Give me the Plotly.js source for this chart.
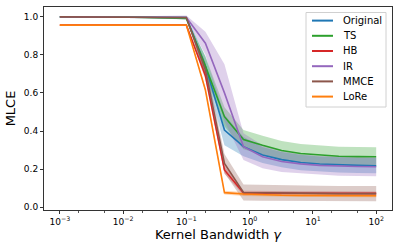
<!DOCTYPE html>
<html><head><meta charset="utf-8">
<script src="https://cdn.plot.ly/plotly-3.0.1.min.js"></script>
<style>body{margin:0;background:#fff}#c{width:399px;height:249px}</style>
</head><body><div id="c"></div>
<script>
const gamma = [0.001, 0.01, 0.1, 0.2, 0.4, 0.8, 1.6, 3.2, 6.4, 12.8, 25.6, 51.2, 100];
const names = ["Original", "TS", "HB", "IR", "MMCE", "LoRe"];
const colors = ["#1f77b4", "#2ca02c", "#d62728", "#9467bd", "#8c564b", "#ff7f0e"];
const fills = ["rgba(31,119,180,0.3)", "rgba(44,160,44,0.3)", "rgba(214,39,40,0.3)", "rgba(148,103,189,0.3)", "rgba(140,86,75,0.3)", "rgba(255,127,14,0.3)"];
const mOriginal = [0.998, 0.998, 0.995, 0.74, 0.405, 0.318, 0.274, 0.25, 0.235, 0.227, 0.222, 0.22, 0.218];
const sOriginal = [0.002, 0.002, 0.004, 0.05, 0.08, 0.05, 0.042, 0.04, 0.04, 0.04, 0.04, 0.04, 0.04];
const mTS = [0.998, 0.998, 0.99, 0.74, 0.475, 0.355, 0.325, 0.298, 0.282, 0.273, 0.268, 0.266, 0.265];
const sTS = [0.002, 0.002, 0.004, 0.05, 0.05, 0.05, 0.05, 0.05, 0.05, 0.05, 0.05, 0.05, 0.05];
const mHB = [0.955, 0.955, 0.955, 0.69, 0.196, 0.075, 0.075, 0.074, 0.074, 0.074, 0.073, 0.073, 0.073];
const sHB = [0.002, 0.002, 0.003, 0.02, 0.02, 0.012, 0.01, 0.01, 0.01, 0.01, 0.01, 0.01, 0.01];
const mIR = [0.998, 0.998, 0.995, 0.86, 0.60, 0.318, 0.265, 0.24, 0.228, 0.22, 0.216, 0.214, 0.213];
const sIR = [0.002, 0.002, 0.01, 0.06, 0.15, 0.07, 0.06, 0.055, 0.05, 0.05, 0.05, 0.05, 0.05];
const mMMCE = [0.998, 0.998, 0.995, 0.72, 0.23, 0.078, 0.076, 0.074, 0.073, 0.073, 0.072, 0.072, 0.072];
const sMMCE = [0.002, 0.002, 0.004, 0.04, 0.05, 0.042, 0.042, 0.04, 0.04, 0.04, 0.04, 0.04, 0.04];
const mLoRe = [0.955, 0.955, 0.955, 0.615, 0.077, 0.07, 0.065, 0.063, 0.062, 0.062, 0.061, 0.061, 0.061];
const sLoRe = [0.003, 0.003, 0.004, 0.01, 0.01, 0.01, 0.008, 0.008, 0.008, 0.008, 0.008, 0.008, 0.008];
const xTickVals = [0.001, 0.01, 0.1, 1, 10, 100];
const xTickText = ["10<sup>−3</sup>", "10<sup>−2</sup>", "10<sup>−1</sup>", "10<sup>0</sup>", "10<sup>1</sup>", "10<sup>2</sup>"];
const yTickVals = [0, 0.2, 0.4, 0.6, 0.8, 1.0];

const W = 399, H = 249, M = {l: 44, r: 7, t: 7, b: 39};
const PW = W - M.l - M.r, PH = H - M.t - M.b;
const px = x => (x - M.l) / PW;
const py = y => 1 - (y - M.t) / PH;

const means = [mOriginal, mTS, mHB, mIR, mMMCE, mLoRe];
const stds = [sOriginal, sTS, sHB, sIR, sMMCE, sLoRe];
const traces = [];
for (let i = 0; i < names.length; i++) {
  const up = means[i].map((v, k) => v + stds[i][k]);
  const lo = means[i].map((v, k) => v - stds[i][k]);
  traces.push({x: gamma, y: up, mode: "lines", line: {width: 0, color: fills[i]}, showlegend: false, hoverinfo: "skip"});
  traces.push({x: gamma, y: lo, mode: "lines", line: {width: 0, color: fills[i]}, fill: "tonexty", fillcolor: fills[i], showlegend: false, hoverinfo: "skip"});
}
for (let i = 0; i < names.length; i++) {
  traces.push({x: gamma, y: means[i], mode: "lines", name: names[i], line: {color: colors[i], width: 1.6}});
}

// legend drawn as layout decoration (box, sample lines, real text)
const shapes = [{
  type: "rect", xref: "paper", yref: "paper",
  x0: px(306), x1: px(386), y0: py(107), y1: py(12.5),
  line: {color: "#d0d0d0", width: 1}, fillcolor: "rgba(255,255,255,0.8)", layer: "above"
}];
const annotations = [];
for (let i = 0; i < names.length; i++) {
  const yr = 20.6 + 15.2 * i;
  shapes.push({type: "line", xref: "paper", yref: "paper", x0: px(312), x1: px(333), y0: py(yr), y1: py(yr),
    line: {color: colors[i], width: 2}, layer: "above"});
  annotations.push({xref: "paper", yref: "paper", x: px(341), y: py(yr), xanchor: "left", yanchor: "middle",
    text: names[i], showarrow: false, font: {size: 10, color: "#000"}});
}

const layout = {
  width: W, height: H,
  margin: M,
  paper_bgcolor: "#fff", plot_bgcolor: "#fff",
  font: {family: "DejaVu Sans", color: "#000", size: 9},
  xaxis: {
    type: "log", range: [-3.25, 2.25],
    tickvals: xTickVals, ticktext: xTickText,
    ticks: "outside", ticklen: 3, tickcolor: "#333",
    minor: {ticks: "outside", ticklen: 1.5, tickcolor: "#555", showgrid: false},
    showgrid: false, zeroline: false,
    showline: true, mirror: true, linecolor: "#333", linewidth: 1,
    tickfont: {size: 9},
    title: {text: "Kernel Bandwidth <i>γ</i>", font: {size: 13}, standoff: 4}
  },
  yaxis: {
    range: [-0.014, 1.05],
    tickvals: yTickVals, tickformat: ".1f",
    ticks: "outside", ticklen: 3, tickcolor: "#333",
    showgrid: false, zeroline: false,
    showline: true, mirror: true, linecolor: "#333", linewidth: 1,
    tickfont: {size: 9},
    title: {text: "MLCE", font: {size: 13}, standoff: 5}
  },
  shapes: shapes,
  annotations: annotations,
  showlegend: false
};
Plotly.newPlot("c", traces, layout, {displayModeBar: false, staticPlot: true});
</script>
</body></html>
